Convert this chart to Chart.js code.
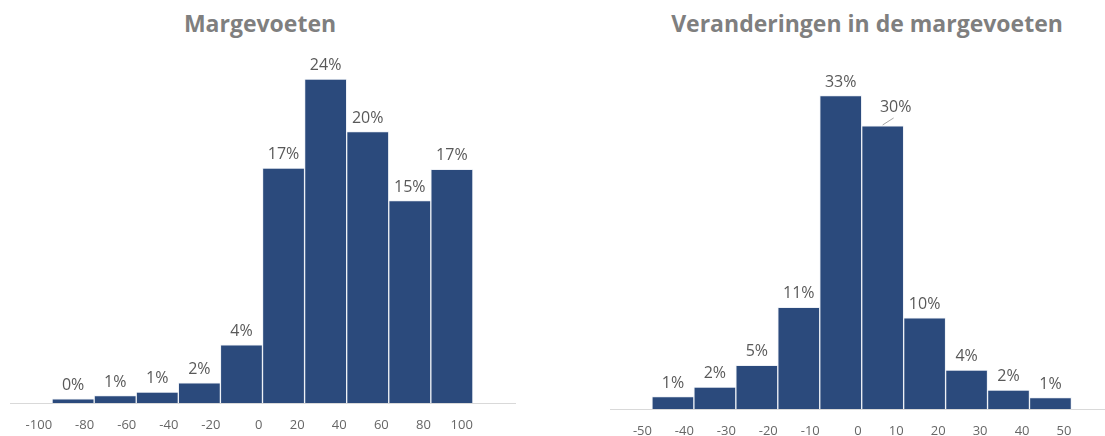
<!DOCTYPE html>
<html>
<head>
<meta charset="utf-8">
<script src="https://cdn.jsdelivr.net/npm/chart.js@4"></script>
<style>
  html, body { margin: 0; padding: 0; background: #ffffff; width: 1105px; height: 436px; overflow: hidden; }
  .box { position: absolute; top: 0; height: 436px; }
  .title { position: absolute; top: 12px; font-family: "Open Sans", sans-serif; font-weight: 700; font-size: 23px; line-height: 23px; color: #7f7f7f; text-align: center; white-space: nowrap; }
</style>
</head>
<body>
<div class="title" style="left:60px; width:400px;">Margevoeten</div>
<div class="title" style="left:667px; width:400px;">Veranderingen in de margevoeten</div>
<div class="box" style="left:0px; width:540px;"><canvas id="c1" width="540" height="436"></canvas></div>
<div class="box" style="left:590px; width:515px;"><canvas id="c2" width="515" height="436"></canvas></div>
<script>
// ---- data ----
const leftTitle = "Margevoeten";
const leftEdges = [-100, -80, -60, -40, -20, 0, 20, 40, 60, 80, 100];
const leftValues = [0.3, 0.55, 0.8, 1.5, 4.3, 17.4, 24.0, 20.1, 15.0, 17.3];

const rightTitle = "Veranderingen in de margevoeten";
const rightEdges = [-50, -40, -30, -20, -10, 0, 10, 20, 30, 40, 50];
const rightValues = [1.3, 2.3, 4.6, 10.7, 33.0, 29.8, 9.6, 4.1, 2.0, 1.2];

// ---- helpers ----
const FONT = '"Open Sans", sans-serif';
const BAR = '#2B4A7C';

function toPoints(edges, values) {
  return values.map((v, i) => ({ x: (edges[i] + edges[i + 1]) / 2, y: v }));
}

const labelPlugin = {
  id: 'barLabels',
  afterDatasetsDraw(chart, args, opts) {
    const ctx = chart.ctx;
    const meta = chart.getDatasetMeta(0);
    const data = chart.data.datasets[0].data;
    ctx.save();
    ctx.font = '16px ' + FONT;
    ctx.fillStyle = '#595959';
    ctx.textAlign = 'center';
    ctx.textBaseline = 'alphabetic';
    meta.data.forEach((el, i) => {
      const txt = Math.round(data[i].y) + '%';
      let x = el.x, y = el.y - 9;
      const sh = (opts.shift || {})[i];
      if (sh) {
        x += sh.dx; y += sh.dy;
        ctx.strokeStyle = '#a6a6a6';
        ctx.lineWidth = 1;
        ctx.beginPath();
        ctx.moveTo(el.x, el.y - 1);
        ctx.lineTo(el.x + sh.dx - 2, el.y - 8);
        ctx.stroke();
      }
      ctx.fillText(txt, x, y);
    });
    ctx.restore();
  }
};

function makeChart(id, edges, values, xmin, xmax, ymax, pad, axisH, shift) {
  return new Chart(document.getElementById(id), {
    type: 'bar',
    data: {
      datasets: [{
        data: toPoints(edges, values),
        backgroundColor: BAR,
        borderColor: '#eef1f6',
        borderWidth: 1,
        borderSkipped: 'start',
        categoryPercentage: 1,
        barPercentage: 1
      }]
    },
    options: {
      responsive: false,
      animation: false,
      events: [],
      layout: { padding: pad },
      plugins: {
        legend: { display: false },
        tooltip: { enabled: false },
        barLabels: { shift: shift }
      },
      scales: {
        x: {
          type: 'linear',
          offset: false,
          min: xmin,
          max: xmax,
          afterBuildTicks: (axis) => { axis.ticks = edges.map(v => ({ value: v })); },
          afterFit: (axis) => { axis.height = axisH; },
          grid: { display: false, drawTicks: false },
          border: { display: true, color: '#d9d9d9', width: 1 },
          ticks: {
            align: 'end',
            padding: 14,
            autoSkip: false,
            maxRotation: 0,
            color: '#666666',
            font: { family: FONT, size: 13 },
            callback: (v) => String(v)
          }
        },
        y: {
          display: false,
          min: 0,
          max: ymax
        }
      }
    },
    plugins: [labelPlugin]
  });
}

// left: chart area x 10..515, bottom 403, 13.5 px per %
makeChart('c1', leftEdges, leftValues, -120, 120, 28.0, { left: 10, right: 25, top: 25, bottom: 0 }, 33, {});
// right: chart area x 610..1105, bottom 409, 9.5 px per %
makeChart('c2', rightEdges, rightValues, -60, 58, 35.9, { left: 20, right: 0, top: 68, bottom: 0 }, 27, { 5: { dx: 13, dy: -5 } });
</script>
</body>
</html>
